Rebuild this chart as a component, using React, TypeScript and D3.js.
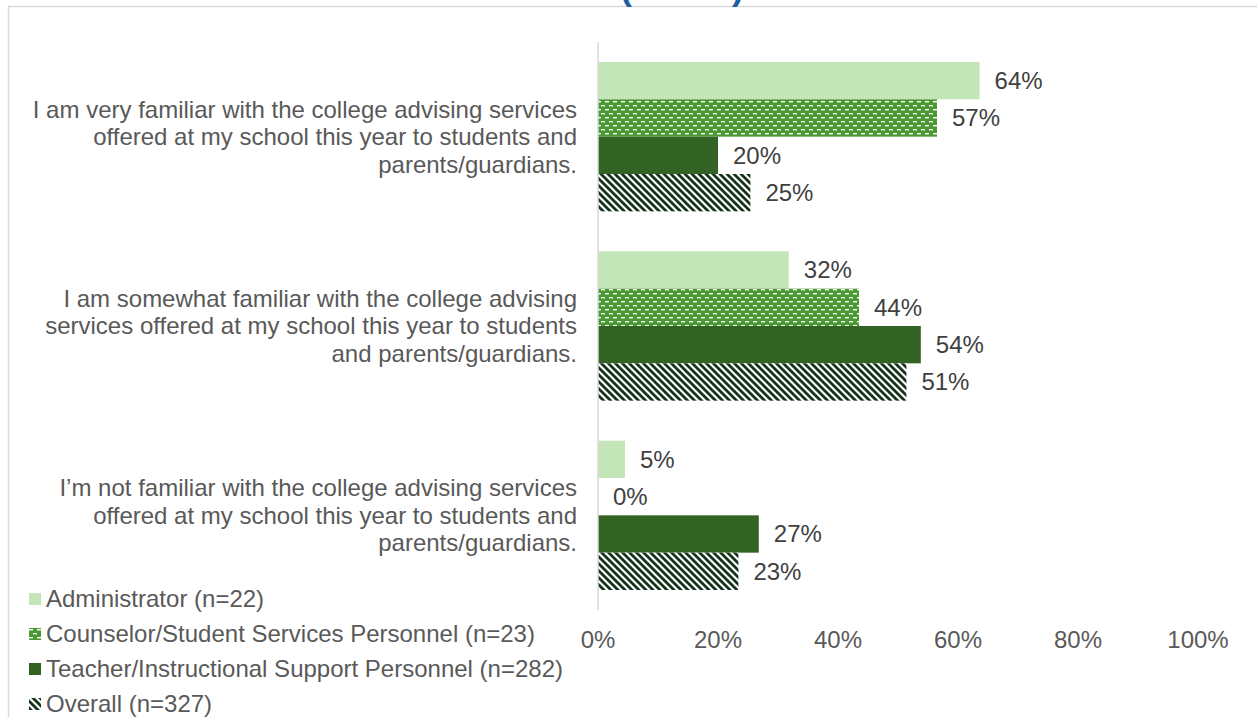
import React from "react";
import * as d3 from "d3";

const categories: string[][] = [
  ["I am very familiar with the college advising services", "offered at my school this year to students and", "parents/guardians."],
  ["I am somewhat familiar with the college advising", "services offered at my school this year to students", "and parents/guardians."],
  ["I\u2019m not familiar with the college advising services", "offered at my school this year to students and", "parents/guardians."],
];
const seriesNames = [
  "Administrator (n=22)",
  "Counselor/Student Services Personnel (n=23)",
  "Teacher/Instructional Support Personnel (n=282)",
  "Overall (n=327)",
];
const administrator = [63.6, 31.8, 4.5];
const counselor = [56.5, 43.5, 0];
const teacher = [20, 53.8, 26.8];
const overall = [25.4, 51.4, 23.4];
const seriesValues = [administrator, counselor, teacher, overall];
const xTicks = [0, 20, 40, 60, 80, 100];

const fills = ["#c4e5b8", "url(#patCounselor)", "#336324", "url(#patOverall)"];

export default function App() {
  const W = 1257, H = 717;
  const x = d3.scaleLinear().domain([0, 100]).range([598, 1198]);
  const yBand = d3.scaleBand<number>().domain(d3.range(categories.length)).range([42, 610]);
  const inner = d3.scaleBand<number>().domain(d3.range(seriesNames.length)).range([20, yBand.bandwidth() - 20]);
  const font = "'Liberation Sans', Arial, sans-serif";
  const lineH = 27.5;
  const fs = 24;
  const pct = (v: number) => `${Math.round(v)}%`;
  const legendY = d3.scaleLinear().domain([0, 3]).range([599, 704]);

  return (
    <div style={{ position: "absolute", left: 0, top: 0 }}>
      <svg width={W} height={H} style={{ display: "block" }} fontFamily={font}>
        <defs>
          <pattern id="patCounselor" patternUnits="userSpaceOnUse" width={8} height={8} x={600} y={0}>
            <rect width={8} height={8} fill="#4a9a34" />
            <rect x={1} y={1} width={4} height={1.4} fill="#ffffff" />
            <rect x={5} y={5} width={4} height={1.4} fill="#ffffff" />
            <rect x={-3} y={5} width={4} height={1.4} fill="#ffffff" />
          </pattern>
          <pattern id="patOverall" patternUnits="userSpaceOnUse" width={7} height={7}>
            <rect width={7} height={7} fill="#ffffff" />
            <path d="M-1,-1 L8,8 M-8,-1 L1,8 M6,-1 L15,8" stroke="#15331a" strokeWidth={2.8} />
          </pattern>
        </defs>
        <rect x={0} y={0} width={W} height={H} fill="#ffffff" />
        {/* chart frame */}
        <line x1={8} x2={W} y1={6.5} y2={6.5} stroke="#d9d9d9" strokeWidth={1.5} />
        <line x1={8.5} x2={8.5} y1={6} y2={H} stroke="#d9d9d9" strokeWidth={1.5} />
        {/* title, cut off by the top edge as in the reference */}
        <text x={682} y={-0.5} textAnchor="middle" fontSize={35} fontWeight="bold" fill="#1f5f9e">(n=327)</text>

        {/* bars */}
        {categories.map((_, ci) =>
          seriesValues.map((vals, si) => {
            const y0 = (yBand(ci) as number) + (inner(si) as number);
            const h = inner.bandwidth();
            const v = vals[ci];
            return (
              <g key={`${ci}-${si}`}>
                {v > 0 && <rect x={x(0)} y={y0} width={x(v) - x(0)} height={h} fill={fills[si]} />}
                <text x={x(v) + 15} y={y0 + h / 2} dy="0.35em" fontSize={fs} fill="#404040">{pct(v)}</text>
              </g>
            );
          })
        )}

        {/* axis line */}
        <line x1={x(0)} x2={x(0)} y1={42} y2={610} stroke="#d9d9d9" strokeWidth={1.5} />

        {/* category labels */}
        {categories.map((lines, ci) => {
          const cy = (yBand(ci) as number) + yBand.bandwidth() / 2;
          return (
            <text key={ci} x={577} textAnchor="end" fontSize={fs} fill="#595959">
              {lines.map((l, li) => (
                <tspan key={li} x={577} y={cy + (li - (lines.length - 1) / 2) * lineH} dy="0.35em">{l}</tspan>
              ))}
            </text>
          );
        })}

        {/* x tick labels */}
        {xTicks.map((t) => (
          <text key={t} x={x(t)} y={640} dy="0.35em" textAnchor="middle" fontSize={fs} fill="#595959">{t}%</text>
        ))}

        {/* legend */}
        {seriesNames.map((n, i) => (
          <g key={n}>
            <rect x={29} y={legendY(i) - 6} width={12} height={12} fill={fills[i]} />
            <text x={46} y={legendY(i)} dy="0.35em" fontSize={fs} fill="#595959">{n}</text>
          </g>
        ))}
      </svg>
    </div>
  );
}
